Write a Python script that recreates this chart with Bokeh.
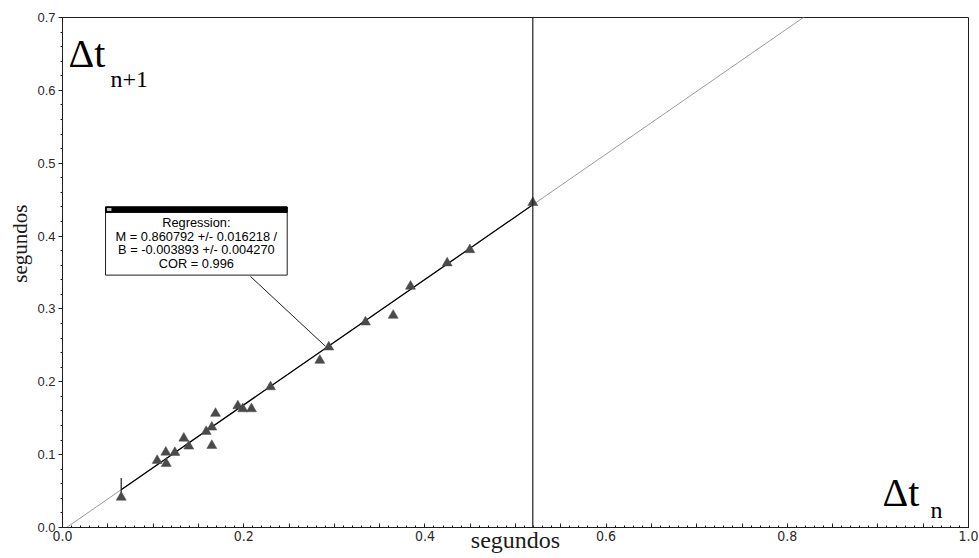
from bokeh.embed import file_html
from bokeh.models import (CustomJSTickFormatter, FixedTicker, Label, PrintfTickFormatter,
                          Range1d, Span)
from bokeh.plotting import figure
from bokeh.resources import INLINE

# Successive intervals: Δt(n) on x, Δt(n+1) on y, in seconds
dt_n = [0.0648, 0.1045, 0.1145, 0.1140, 0.1240, 0.1339, 0.1394, 0.1586, 0.1648, 0.1648,
        0.1689, 0.1935, 0.1990, 0.2086, 0.2296, 0.2840, 0.2939, 0.3344, 0.3650, 0.3841,
        0.4246, 0.4496, 0.5191]
dt_n1 = [0.0415, 0.0919, 0.0878, 0.1033, 0.1029, 0.1225, 0.1116, 0.1317, 0.1377, 0.1125,
         0.1565, 0.1669, 0.1628, 0.1628, 0.1930, 0.2293, 0.2476, 0.2819, 0.2911, 0.3310,
         0.3630, 0.3812, 0.4458]

# Linear regression result
M, M_ERR = 0.860792, 0.016218
B, B_ERR = -0.003893, 0.004270
COR = 0.996

x_tick_labels = ["0.0", "0.2", "0.4", "0.6", "0.8", "1.0"]
y_tick_labels = ["0.0", "0.1", "0.2", "0.3", "0.4", "0.5", "0.6", "0.7"]
axis_title = "segundos"

SERIF = "Liberation Serif"
SANS = "Liberation Sans"
NARROW = "'Liberation Sans Narrow', 'DejaVu Sans Condensed', sans-serif"
INK = "#1e1e1e"
NBSP = "\u00a0"

p = figure(width=979, height=558, output_backend="svg", toolbar_location=None,
           x_range=Range1d(0, 1), y_range=Range1d(0, 0.7),
           min_border_left=62, min_border_right=11, min_border_top=17, min_border_bottom=31)
p.grid.visible = False
p.background_fill_color = "white"
p.border_fill_color = "white"
p.outline_line_color = INK
p.outline_line_width = 1

# x axis: labelled every 0.2, ticks every 0.05, fine ticks every 0.01 (drawn inward)
p.xaxis.ticker = FixedTicker(ticks=[round(i * 0.05, 2) for i in range(21)],
                             minor_ticks=[round(i * 0.01, 2) for i in range(101)])
p.xaxis.formatter = CustomJSTickFormatter(
    code="return Math.abs(tick*5 - Math.round(tick*5)) < 1e-6 ? tick.toFixed(1) : '';")
p.xaxis.major_tick_in = 4
p.xaxis.major_tick_out = 0
p.xaxis.minor_tick_in = 2
p.xaxis.minor_tick_out = 0
p.xaxis.major_label_text_font = NARROW
p.xaxis.major_label_text_font_size = "14px"
p.xaxis.major_label_standoff = 3
# the title sits level with the tick labels, between 0.4 and 0.6
p.xaxis.axis_label = axis_title
p.xaxis.axis_label_standoff = -17

# y axis: labelled every 0.1, fine ticks every 0.02 (drawn outward)
p.yaxis.ticker = FixedTicker(ticks=[round(i * 0.1, 1) for i in range(len(y_tick_labels))],
                             minor_ticks=[round(i * 0.02, 2) for i in range(36)])
p.yaxis.formatter = PrintfTickFormatter(format="%.1f")
p.yaxis.major_tick_in = 0
p.yaxis.major_tick_out = 4
p.yaxis.minor_tick_in = 0
p.yaxis.minor_tick_out = 2
p.yaxis.major_label_text_font = SANS
p.yaxis.major_label_text_font_size = "13px"
p.yaxis.major_label_standoff = 3
# leading blanks lift the vertical title a little above the frame's middle
p.yaxis.axis_label = NBSP * 11 + axis_title
p.yaxis.axis_label_standoff = 2

for ax in (p.xaxis, p.yaxis):
    ax.axis_line_color = INK
    ax.major_tick_line_color = INK
    ax.minor_tick_line_color = INK
    ax.major_label_text_color = "#2a2a2a"
    ax.axis_label_text_font = SERIF
    ax.axis_label_text_font_style = "normal"
    ax.axis_label_text_color = "#1a1a1a"
p.xaxis.axis_label_text_font_size = "24px"
p.yaxis.axis_label_text_font_size = "21px"

# Regression line over the whole window (grey) and over the fitted range (black)
x_lo, x_hi = min(dt_n), max(dt_n)
p.line([0, 1], [B, M + B], line_color="#9a9a9a", line_width=1)
p.line([x_lo, x_hi], [M * x_lo + B, M * x_hi + B], line_color="black", line_width=1.3)

# Fit-range brackets
p.add_layout(Span(location=x_hi, dimension="height", line_color=INK, line_width=1.2))
p.segment(x0=[x_lo], y0=[0.039], x1=[x_lo], y1=[0.068], line_color=INK, line_width=1.2)

# Measured points
p.scatter(dt_n, dt_n1, marker="triangle", size=10, fill_color="#4a4a4a",
          line_color="#4a4a4a", line_width=0.5)

# Regression info box with its leader line
box_l, box_r, box_t, box_b = 0.0475, 0.248, 0.440, 0.3464
p.segment(x0=[0.2075], y0=[0.3445], x1=[0.290], y1=[0.249], line_color=INK, line_width=1)
p.quad(left=[box_l], right=[box_r], top=[box_t], bottom=[box_b],
       fill_color="white", line_color=INK, line_width=1)
p.quad(left=[box_l], right=[box_r], top=[box_t], bottom=[0.4325],
       fill_color="black", line_color="black", line_width=1)
p.quad(left=[box_l + 0.0015], right=[box_l + 0.0065], top=[box_t - 0.0015], bottom=[0.4345],
       fill_color="#bdbdbd", line_color="#bdbdbd", line_width=0)

box_lines = [
    "Regression:",
    f"M = {M:.6f} +/- {M_ERR:.6f} /",
    f"B = {B:.6f} +/- {B_ERR:.6f}",
    f"COR = {COR:.3f}",
]
box_cx = (box_l + box_r) / 2
for i, txt in enumerate(box_lines):
    p.add_layout(Label(x=box_cx, y=0.4185 - i * 0.0187, text=txt, text_align="center",
                       text_baseline="middle", text_font=SANS, text_font_size="12.8px",
                       text_color="black"))

# Δt labels in the corners
p.add_layout(Label(x=0.0066, y=0.650, text="Δt", text_font=SERIF, text_font_size="40px",
                   text_baseline="alphabetic", text_color="black"))
p.add_layout(Label(x=0.0530, y=0.6155, text="n+1", text_font=SERIF, text_font_size="24px",
                   text_baseline="alphabetic", text_color="black"))
p.add_layout(Label(x=0.905, y=0.048, text="Δt", text_font=SERIF, text_font_size="40px",
                   text_baseline="alphabetic", text_color="black"))
p.add_layout(Label(x=0.958, y=0.0245, text="n", text_font=SERIF, text_font_size="24px",
                   text_baseline="alphabetic", text_color="black"))

open("out.html", "w").write(file_html(p, INLINE))
